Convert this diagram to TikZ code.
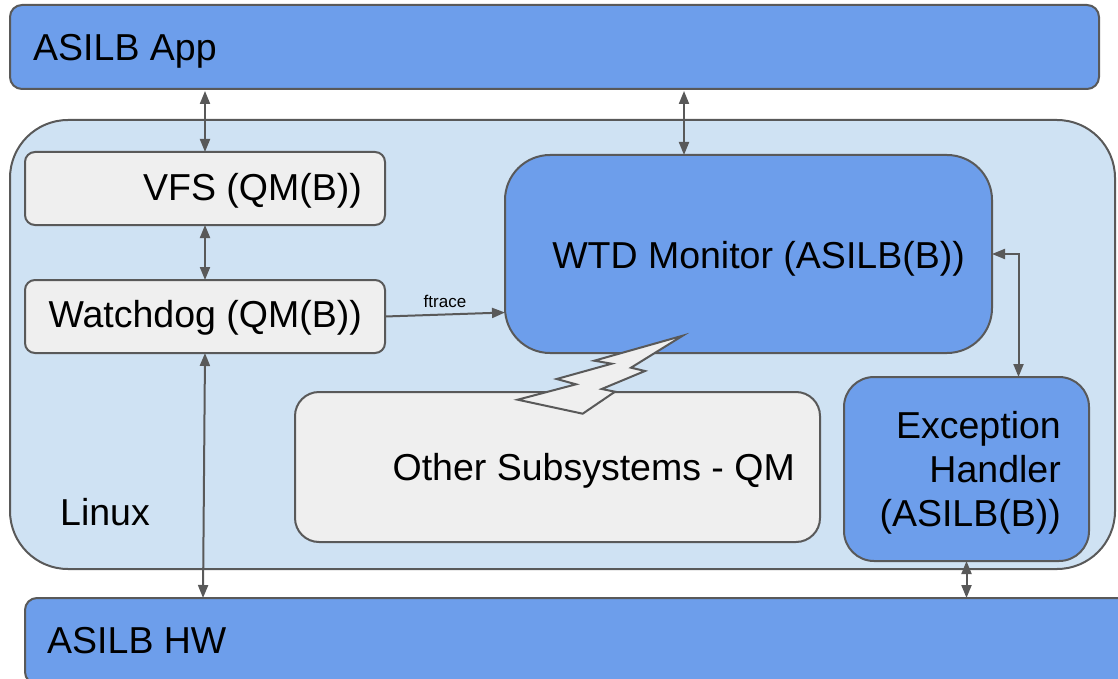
\documentclass[tikz,border=0pt]{standalone}
\usepackage{fontspec}
\setmainfont{Liberation Sans}
\usetikzlibrary{arrows.meta,calc}
\definecolor{boxblue}{HTML}{6D9EEB}
\definecolor{lightblue}{HTML}{CFE2F3}
\definecolor{boxgray}{HTML}{EFEFEF}
\definecolor{edge}{HTML}{595959}
\tikzset{
  box/.style={draw=edge, line width=2pt, rectangle, outer sep=0pt, anchor=north west, inner sep=0pt},
  bluebox/.style={box, fill=boxblue},
  graybox/.style={box, fill=boxgray},
  lbl/.style={font=\fontsize{37.5}{44}\selectfont, inner sep=0pt, align=right},
  arr/.style={draw=edge, line width=2pt, {Triangle[length=13pt,width=10pt]}-{Triangle[length=13pt,width=10pt]}},
  arrone/.style={draw=edge, line width=2pt, -{Triangle[length=13pt,width=10pt]}},
}
\begin{document}
\begin{tikzpicture}[x=1pt,y=-1pt]
\useasboundingbox[fill=white] (0,0) rectangle (1118,679);
\begin{scope}
\clip (0,0) rectangle (1118,679);
% Linux container
\node[draw=edge, line width=2pt, fill=lightblue, rounded corners=58pt, anchor=north west,
  minimum width=1105pt, minimum height=449pt, outer sep=0pt, inner sep=0pt] (linux) at (10,120) {};
\node[lbl, anchor=west] (linuxlbl) at (60,512) {Linux};
% App and HW
\node[bluebox, rounded corners=12pt, minimum width=1089pt, minimum height=84pt] (app) at (10,5) {};
\node[lbl, anchor=west] (applbl) at ($(app.west)+(23,4)$) {ASILB App};
\node[bluebox, rounded corners=12pt, minimum width=1120pt, minimum height=86pt] (hw) at (25,598) {};
\node[lbl, anchor=west] (hwlbl) at ($(hw.west)+(22,0)$) {ASILB HW};
% inner boxes
\node[graybox, rounded corners=10pt, minimum width=360pt, minimum height=73pt] (vfs) at (25,152) {};
\node[lbl, anchor=east] (vfslbl) at ($(vfs.east)+(-23,2)$) {VFS (QM(B))};
\node[graybox, rounded corners=10pt, minimum width=360pt, minimum height=73pt] (wd) at (25,280) {};
\node[lbl, anchor=east] (wdlbl) at ($(wd.east)+(-23,1)$) {Watchdog (QM(B))};
\node[bluebox, rounded corners=45pt, minimum width=487pt, minimum height=198pt] (wtd) at (505,155) {};
\node[lbl, anchor=east] (wtdlbl) at ($(wtd.east)+(-27,5)$) {WTD Monitor (ASILB(B))};
\node[graybox, rounded corners=24pt, minimum width=525pt, minimum height=150pt] (oth) at (295,392) {};
\node[lbl, anchor=east] (othlbl) at ($(oth.east)+(-25,4)$) {Other Subsystems - QM};
\node[bluebox, rounded corners=30pt, minimum width=245pt, minimum height=184pt] (exc) at (844,377) {};
\node[lbl, anchor=east] (exclbl) at ($(exc.east)+(-28,4)$) {Exception\\Handler\\(ASILB(B))};
% lightning
\draw[draw=edge, line width=2pt, fill=boxgray, line join=miter]
  (682.7,335.7) -- (594.3,360.7) -- (611.7,363.7) -- (556.7,379) -- (576,384.3) -- (517.7,399.7)
  -- (582.7,413.7) -- (615,391.7) -- (601.7,389) -- (645,371) -- (631,367.7) -- cycle;
% connectors
\coordinate (wtdtop) at ($(wtd.north west)+(179,0)$);
\draw[arr] (app.south -| vfs.north) ++(0,2) -- (vfs.north);
\draw[arr] ($(app.south -| wtdtop)+(0,2)$) -- (wtdtop);
\draw[arr] (vfs.south) -- (wd.north);
\draw[arr] (wd.south) -- ($(hw.north -| wd.south)+(-2,0)$);
\draw[arrone] (wd.east) -- node[above=6pt, font=\fontsize{17}{20}\selectfont, inner sep=0pt] (ftr) {ftrace} ($(wtd.west |- wd.east)+(0,-4)$);
\coordinate (excr) at ($(exc.north)+(52,0)$);
\draw[arr] (wtd.east) -| (excr);
\draw[arr] (exc.south) -- (hw.north -| exc.south);
\end{scope}
\end{tikzpicture}
\end{document}
